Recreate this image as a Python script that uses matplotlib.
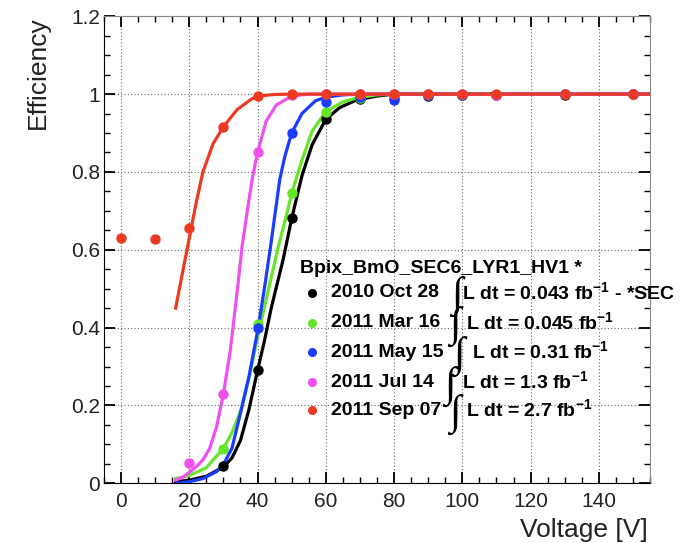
import matplotlib
matplotlib.use("Agg")
import matplotlib.pyplot as plt
from matplotlib.ticker import MultipleLocator

plt.rcParams["font.family"] = ["Liberation Sans", "DejaVu Sans"]
plt.rcParams["mathtext.fontset"] = "custom"
plt.rcParams["mathtext.rm"] = "Liberation Sans:bold"
plt.rcParams["mathtext.bf"] = "Liberation Sans:bold"

# measured points (voltage in V, efficiency)
black_v = [30, 40, 50, 60, 70, 80, 90, 100, 110, 130, 150]
black_e = [0.044, 0.292, 0.682, 0.935, 0.988, 0.993, 0.995, 0.998, 0.997, 0.999, 1.0]
green_v = [30, 40, 50, 60, 70, 80, 90, 100, 110, 130, 150]
green_e = [0.089, 0.41, 0.745, 0.955, 0.99, 0.995, 0.997, 0.999, 0.999, 1.0, 1.0]
blue_v = [40, 50, 60, 70, 80, 90, 100, 110, 130, 150]
blue_e = [0.398, 0.899, 0.98, 0.992, 0.985, 0.997, 0.999, 0.999, 1.0, 1.0]
magenta_v = [20, 30, 40, 50, 60, 70, 80, 90, 100, 110, 130, 150]
magenta_e = [0.052, 0.23, 0.852, 0.997, 1.0, 1.0, 1.0, 1.0, 1.0, 0.998, 1.0, 1.0]
red_v = [0, 10, 20, 30, 40, 50, 60, 70, 80, 90, 100, 110, 130, 150]
red_e = [0.629, 0.627, 0.655, 0.916, 0.995, 1.0, 1.0, 1.0, 1.0, 1.0, 1.0, 1.0, 1.0, 1.0]

# fitted curves
black_fit_v = [16, 20, 25, 30, 32.5, 35, 37.5, 40, 42, 44, 47.5, 50, 53, 56, 60, 64, 69, 75, 80, 155]
black_fit_e = [0.004, 0.008, 0.018, 0.042, 0.065, 0.11, 0.19, 0.29, 0.365, 0.45, 0.575, 0.68,
               0.79, 0.87, 0.935, 0.965, 0.985, 0.995, 1.0, 1.0]
green_fit_v = [16, 20, 25, 30, 32.5, 35, 37.5, 40, 43, 46, 48.5, 50, 53, 56, 60, 65, 69, 75, 80, 155]
green_fit_e = [0.012, 0.02, 0.04, 0.09, 0.13, 0.185, 0.27, 0.375, 0.49, 0.605, 0.69, 0.745,
               0.83, 0.905, 0.955, 0.98, 0.99, 0.998, 1.0, 1.0]
blue_fit_v = [16.5, 20, 24, 28, 30, 32.5, 35, 37.5, 40, 42, 44, 46.5, 48, 50, 53, 57, 60, 65, 70, 155]
blue_fit_e = [0.0, 0.004, 0.012, 0.03, 0.048, 0.09, 0.18, 0.275, 0.39, 0.5, 0.62, 0.78,
              0.84, 0.9, 0.95, 0.983, 0.992, 0.998, 1.0, 1.0]
magenta_fit_v = [16, 18, 20, 22, 24, 26, 28, 30, 32, 34, 35.5, 37, 38.5, 40, 42.5, 45.5, 50, 55, 155]
magenta_fit_e = [0.008, 0.015, 0.028, 0.042, 0.06, 0.09, 0.145, 0.23, 0.34, 0.49, 0.61, 0.70,
                 0.785, 0.85, 0.93, 0.972, 0.995, 1.0, 1.0]
red_fit_v = [16, 18, 20, 22, 24, 27, 30, 34, 38, 40, 45, 50, 155]
red_fit_e = [0.45, 0.54, 0.63, 0.72, 0.80, 0.873, 0.916, 0.96, 0.986, 0.995, 0.999, 1.0, 1.0]

dates = ["2010 Oct 28", "2011 Mar 16", "2011 May 15", "2011 Jul 14", "2011 Sep 07"]
lumis = ["0.043", "0.045", "0.31", "1.3", "2.7"]
colors = ["#000000", "#66e62a", "#1a3cff", "#f050f0", "#ec3a22"]
legend_title = "Bpix_BmO_SEC6_LYR1_HV1 *"

x_ticks = [0, 20, 40, 60, 80, 100, 120, 140]
y_ticks = [0, 0.2, 0.4, 0.6, 0.8, 1.0, 1.2]
y_labels = ["0", "0.2", "0.4", "0.6", "0.8", "1", "1.2"]

pts = [(black_v, black_e), (green_v, green_e), (blue_v, blue_e),
       (magenta_v, magenta_e), (red_v, red_e)]
fits = [(black_fit_v, black_fit_e), (green_fit_v, green_fit_e), (blue_fit_v, blue_fit_e),
        (magenta_fit_v, magenta_fit_e), (red_fit_v, red_fit_e)]

fig = plt.figure(figsize=(6.93, 5.43), dpi=100)
ax = fig.add_axes([0.150, 0.110, 0.788, 0.860])

for (fv, fe), (pv, pe), c in zip(fits, pts, colors):
    ax.plot(fv, fe, "-", color=c, lw=2.3, zorder=3)
    ax.plot(pv, pe, "o", color=c, ms=6.5, mec=c, zorder=4)

ax.set_xlim(-5, 155)
ax.set_ylim(0, 1.2)
ax.set_xticks(x_ticks)
ax.set_yticks(y_ticks)
ax.set_yticklabels(y_labels)
ax.xaxis.set_minor_locator(MultipleLocator(5))
ax.yaxis.set_minor_locator(MultipleLocator(0.05))
ax.tick_params(which="both", direction="in", top=True, right=True, color="black")
ax.tick_params(which="major", length=8, width=1.3, labelsize=15, labelcolor="#222222")
ax.tick_params(which="minor", length=4.5, width=1.0)
ax.tick_params(axis="x", pad=6)
ax.tick_params(axis="y", pad=3)
ax.grid(True, which="major", ls=(0, (1, 2)), color="#666666", lw=0.8)

for side in ["top", "right"]:
    ax.spines[side].set_color("#888888")
for side in ["left", "bottom"]:
    ax.spines[side].set_color("black")

ax.text(0.996, -0.074, "Voltage [V]", transform=ax.transAxes, ha="right", va="top",
        fontsize=19, color="#222222")
ax.text(-0.121, 1.0, "Efficiency", transform=ax.transAxes, rotation=90, ha="center",
        va="top", fontsize=19, color="#222222")

# legend block (ROOT style)
ax.text(52.3, 0.553, legend_title, fontsize=14, fontweight="bold", va="center", ha="left")
row_y = [0.490, 0.412, 0.337, 0.260, 0.188]
int_x = [98.3, 97.7, 99.1, 96.2, 97.7]
l_x = [100.0, 101.2, 102.7, 100.0, 101.2]
for i, (d, lum, c) in enumerate(zip(dates, lumis, colors)):
    y = row_y[i]
    ax.plot([56.1], [y], "o", color=c, ms=5.5, clip_on=False, zorder=5)
    ax.text(61.4, y, d, fontsize=14, fontweight="bold", va="center", ha="left")
    ax.text(int_x[i], y - 0.01, "\u222b", fontsize=30,
            family=["Liberation Serif", "DejaVu Sans"], va="center", ha="center")
    tail = " - *SEC" if i == 0 else ""
    ax.text(l_x[i], y, "L dt = " + lum + r" fb$^{-1}$" + tail, fontsize=14,
            fontweight="bold", va="center", ha="left")

fig.savefig("out.png", dpi=100)
